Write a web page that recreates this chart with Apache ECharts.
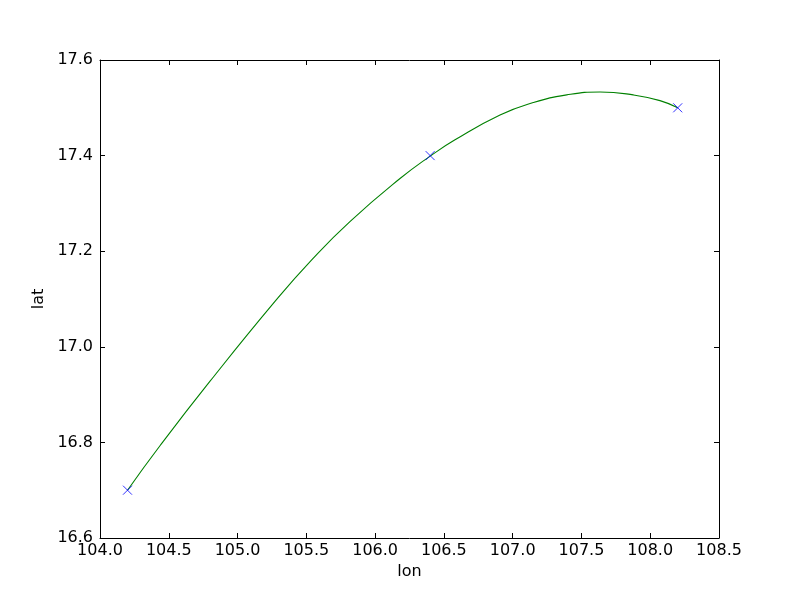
<!DOCTYPE html>
<html>
<head>
<meta charset="utf-8">
<script src="https://cdn.jsdelivr.net/npm/echarts@6/dist/echarts.min.js"></script>
<style>html,body{margin:0;padding:0;background:#fff}#c{width:800px;height:600px}</style>
</head>
<body>
<div id="c"></div>
<script>
// Curve (lon, lat)
var curveLon = [104.2, 104.436, 104.800, 105.272, 105.539, 105.817, 106.181, 106.406, 106.581, 106.908, 107.150, 107.393, 107.635, 107.877, 108.071, 108.2];
var curveLat = [16.7, 16.793, 16.928, 17.095, 17.182, 17.262, 17.352, 17.400, 17.433, 17.485, 17.511, 17.527, 17.533, 17.527, 17.515, 17.5];
// Marked points
var pointLon = [104.2, 106.4, 108.2];
var pointLat = [16.7, 17.4, 17.5];
// Axes
var xTicks = [104.0, 104.5, 105.0, 105.5, 106.0, 106.5, 107.0, 107.5, 108.0, 108.5];
var yTicks = [16.6, 16.8, 17.0, 17.2, 17.4, 17.6];

var curve = curveLon.map(function (x, i) { return [x, curveLat[i]]; });
var pts = pointLon.map(function (x, i) { return [x, pointLat[i]]; });

var font = 'DejaVu Sans';
function axisBase(extra) {
  var base = {
    type: 'value',
    axisLine: { show: true, lineStyle: { color: '#000', width: 1 } },
    axisTick: { show: true, inside: true, length: 5, lineStyle: { color: '#000', width: 1 } },
    splitLine: { show: false },
    axisLabel: { show: true, color: '#000', fontFamily: font, fontSize: 16 }
  };
  for (var k in extra) base[k] = extra[k];
  return base;
}
var chart = echarts.init(document.getElementById('c'), null, { renderer: 'canvas' });
chart.setOption({
  animation: false,
  backgroundColor: '#fff',
  grid: { left: 100, right: 81, top: 60, bottom: 62, show: false },
  xAxis: [
    axisBase({ position: 'bottom', min: xTicks[0], max: xTicks[xTicks.length - 1], interval: 0.5,
      name: 'lon', nameLocation: 'middle', nameGap: 25,
      nameTextStyle: { color: '#000', fontFamily: font, fontSize: 16 },
      axisLabel: { show: true, color: '#000', fontFamily: font, fontSize: 16, margin: 5,
        formatter: function (v) { return v.toFixed(1); } } }),
    axisBase({ position: 'top', min: xTicks[0], max: xTicks[xTicks.length - 1], interval: 0.5,
      axisLabel: { show: false } })
  ],
  yAxis: [
    axisBase({ position: 'left', min: yTicks[0], max: yTicks[yTicks.length - 1], interval: 0.2,
      name: 'lat', nameLocation: 'middle', nameGap: 40, nameRotate: 90,
      nameTextStyle: { color: '#000', fontFamily: font, fontSize: 16 },
      axisLabel: { show: true, color: '#000', fontFamily: font, fontSize: 16, margin: 7,
        formatter: function (v) { return v.toFixed(1); } } }),
    axisBase({ position: 'right', min: yTicks[0], max: yTicks[yTicks.length - 1], interval: 0.2,
      axisLabel: { show: false } })
  ],
  series: [
    {
      type: 'line', data: curve, smooth: 0.5, showSymbol: false, symbol: 'none',
      lineStyle: { color: '#008000', width: 1.1 }, z: 2
    },
    {
      type: 'scatter', data: pts, symbol: 'path://M0,0L10,10M10,0L0,10', symbolSize: 9,
      itemStyle: { color: 'none', borderColor: '#0000ff', borderWidth: 1 }, z: 3
    }
  ]
});
</script>
</body>
</html>
